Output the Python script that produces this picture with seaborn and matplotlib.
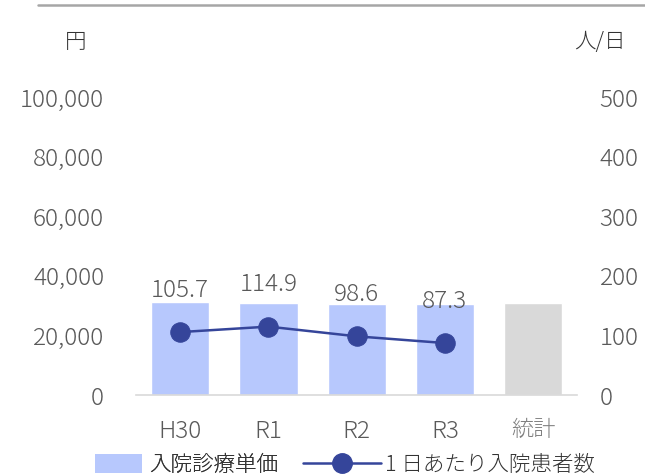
import matplotlib
matplotlib.use('Agg')
import matplotlib.pyplot as plt
from matplotlib.lines import Line2D
from matplotlib.patches import Patch
from matplotlib.ticker import FuncFormatter
import seaborn as sns
import pandas as pd

# data
categories = ['H30', 'R1', 'R2', 'R3', '統計']
unit_price = [31300, 31000, 30700, 30600, 30800]   # 入院診療単価 (円)
patients = [105.7, 114.9, 98.6, 87.3]              # 1日あたり入院患者数 (人/日)
bar_colors = ['#B7C8FD', '#B7C8FD', '#B7C8FD', '#B7C8FD', '#D9D9D9']

sns.set_theme(style='white')
plt.rcParams['font.family'] = ['Noto Sans CJK JP', 'DejaVu Sans']
plt.rcParams['font.weight'] = 'light'
TXT = '#595959'
LINE = '#35459A'
FS_NUM = 17.5   # digits
FS_JP = 15.5    # kanji / kana

fig = plt.figure(figsize=(6.45, 4.76), dpi=100)
ax = fig.add_axes([0.211, 0.170, 0.684, 0.626])

df = pd.DataFrame({'cat': categories, 'price': unit_price})
sns.barplot(data=df, x='cat', y='price', hue='cat', palette=bar_colors,
            width=0.66, legend=False, ax=ax, saturation=1)
ax.set_ylim(0, 100000)
ax.set_yticks(range(0, 100001, 20000))
ax.yaxis.set_major_formatter(FuncFormatter(lambda v, p: f'{int(v):,}'))
ax.set_xlabel('')
ax.set_ylabel('')
for s in ['top', 'left', 'right']:
    ax.spines[s].set_visible(False)
ax.spines['bottom'].set_color('#D9D9D9')
ax.spines['bottom'].set_linewidth(1.2)
ax.tick_params(axis='both', length=0, labelsize=FS_NUM, colors=TXT)
ax.tick_params(axis='x', pad=17)
ax.tick_params(axis='y', pad=23)
stat_lbl = ax.get_xticklabels()[-1]
stat_lbl.set_fontsize(16)
stat_lbl.set_color('#7F7F7F')
ax.set_xlim(-0.5, 4.5)

ax2 = ax.twinx()
sns.lineplot(x=categories[:4], y=patients, ax=ax2, color=LINE, linewidth=1.8,
             marker='o', markersize=14, markeredgecolor=LINE, markerfacecolor=LINE,
             sort=False)
ax2.set_ylim(0, 500)
ax2.set_yticks(range(0, 501, 100))
for s in ['top', 'left', 'right', 'bottom']:
    ax2.spines[s].set_visible(False)
ax2.tick_params(axis='y', length=0, labelsize=FS_NUM, colors=TXT, pad=16)
for c, v in zip(categories[:4], patients):
    ax2.annotate(f'{v}', (c, v), xytext=(0, 30), textcoords='offset points',
                 ha='center', va='center', fontsize=FS_NUM, color=TXT)

fig.text(0.118, 0.912, '円', fontsize=FS_JP, color='#333333', ha='center', va='center')
fig.text(0.930, 0.912, '人/日', fontsize=FS_JP, color='#333333', ha='center', va='center')

fig.add_artist(Line2D([0.059, 1.0], [0.99, 0.99], color='#A6A6A6', linewidth=1.8,
                      transform=fig.transFigure))

leg1 = fig.legend([Patch(facecolor='#B7C8FD', edgecolor='none')], ['入院診療単価'],
                  loc='center left', bbox_to_anchor=(0.147, 0.024), frameon=False,
                  fontsize=FS_JP, labelcolor='#333333', handlelength=2.2,
                  handleheight=1.0, handletextpad=0.3, borderaxespad=0,
                  borderpad=0)
fig.add_artist(leg1)
fig.legend([Line2D([], [], color=LINE, linewidth=1.8, marker='o', markersize=14)],
           ['1 日あたり入院患者数'], loc='center left',
           bbox_to_anchor=(0.470, 0.024), frameon=False, fontsize=FS_JP,
           labelcolor='#333333', handlelength=3.6, handletextpad=0.2,
           borderaxespad=0, borderpad=0)

fig.savefig('out.png', dpi=100)
